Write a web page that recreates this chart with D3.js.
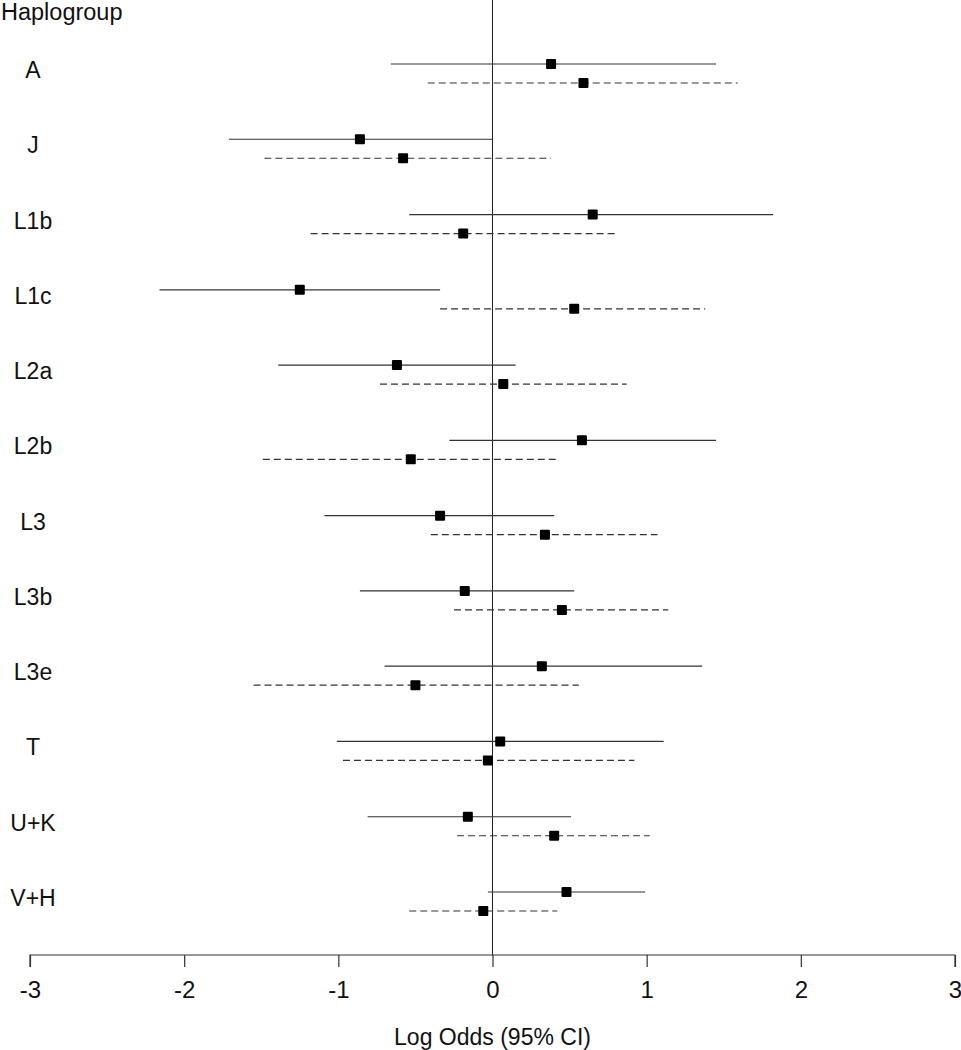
<!DOCTYPE html>
<html>
<head>
<meta charset="utf-8">
<script src="https://cdn.jsdelivr.net/npm/d3@7"></script>
<style>
  html, body { margin: 0; padding: 0; background: #fff; }
  svg { display: block; font-family: "Liberation Sans", Arial, sans-serif; }
</style>
</head>
<body>
<svg id="chart" width="961" height="1050"></svg>
<script>
const categories = ["A","J","L1b","L1c","L2a","L2b","L3","L3b","L3e","T","U+K","V+H"];
// Series 1 (solid lines, upper)
const solidEst   = [ 0.38, -0.86,  0.65, -1.25, -0.62,  0.58, -0.34, -0.18,  0.32,  0.05, -0.16,  0.48];
const solidLow   = [-0.66, -1.71, -0.54, -2.16, -1.39, -0.28, -1.09, -0.86, -0.70, -1.01, -0.81, -0.03];
const solidHigh  = [ 1.45,  0.00,  1.82, -0.34,  0.15,  1.45,  0.40,  0.53,  1.36,  1.11,  0.51,  0.99];
// Series 2 (dashed lines, lower)
const dashedEst  = [ 0.59, -0.58, -0.19,  0.53,  0.07, -0.53,  0.34,  0.45, -0.50, -0.03,  0.40, -0.06];
const dashedLow  = [-0.42, -1.48, -1.18, -0.34, -0.73, -1.49, -0.40, -0.25, -1.55, -0.97, -0.23, -0.54];
const dashedHigh = [ 1.59,  0.38,  0.81,  1.38,  0.87,  0.41,  1.07,  1.14,  0.56,  0.92,  1.02,  0.42];
const xTicks = [-3, -2, -1, 0, 1, 2, 3];
const xTickLabels = ["-3", "-2", "-1", "0", "1", "2", "3"];
const xTitle = "Log Odds (95% CI)";
const yTitle = "Haplogroup";

const svg = d3.select("#chart");
const x = d3.scaleLinear().domain([-3, 3]).range([30, 955]);
const y = d3.scaleLinear().domain([0, categories.length - 1]).range([70, 898]);
const axisY = 955;

// zero reference line
svg.append("line")
  .attr("x1", x(0)).attr("x2", x(0))
  .attr("y1", 0).attr("y2", axisY)
  .attr("stroke", "#222").attr("stroke-width", 1);

// x axis
const axis = d3.axisBottom(x).tickValues(xTicks).tickSize(12).tickPadding(14)
  .tickFormat((d, i) => xTickLabels[i]);
const gAxis = svg.append("g").attr("transform", `translate(0,${axisY})`).call(axis);
gAxis.select(".domain").attr("stroke", "#333").attr("stroke-width", 1.2)
  .attr("d", `M${x(-3)},12V0H${x(3)}V12`);
gAxis.selectAll(".tick line").attr("stroke", "#333").attr("stroke-width", 1.2);
gAxis.selectAll(".tick text").attr("font-size", 24).attr("fill", "#111")
  .attr("font-family", "Liberation Sans, Arial, sans-serif");

svg.append("text")
  .attr("x", x(0)).attr("y", 1045)
  .attr("text-anchor", "middle").attr("font-size", 23).attr("fill", "#111")
  .text(xTitle);

svg.append("text")
  .attr("x", 1).attr("y", 20)
  .attr("font-size", 23.5).attr("fill", "#111")
  .text(yTitle);

// category labels
svg.append("g").selectAll("text").data(categories).join("text")
  .attr("x", 33).attr("y", (d, i) => y(i) + 8)
  .attr("text-anchor", "middle").attr("font-size", 23).attr("fill", "#111")
  .text(d => d);

const solidOff = -6, dashedOff = 13;

const series = [
  { est: solidEst, lo: solidLow, hi: solidHigh, off: solidOff, dash: null },
  { est: dashedEst, lo: dashedLow, hi: dashedHigh, off: dashedOff, dash: "7,4" }
];

series.forEach(s => {
  const g = svg.append("g");
  g.selectAll("line").data(categories).join("line")
    .attr("x1", (d, i) => x(s.lo[i]))
    .attr("x2", (d, i) => x(s.hi[i]))
    .attr("y1", (d, i) => y(i) + s.off)
    .attr("y2", (d, i) => y(i) + s.off)
    .attr("stroke", "#333").attr("stroke-width", 1.2)
    .attr("stroke-dasharray", s.dash);
  g.selectAll("rect").data(categories).join("rect")
    .attr("x", (d, i) => x(s.est[i]) - 5)
    .attr("y", (d, i) => y(i) + s.off - 5)
    .attr("width", 10).attr("height", 10)
    .attr("rx", 1)
    .attr("fill", "#000");
});
</script>
</body>
</html>
